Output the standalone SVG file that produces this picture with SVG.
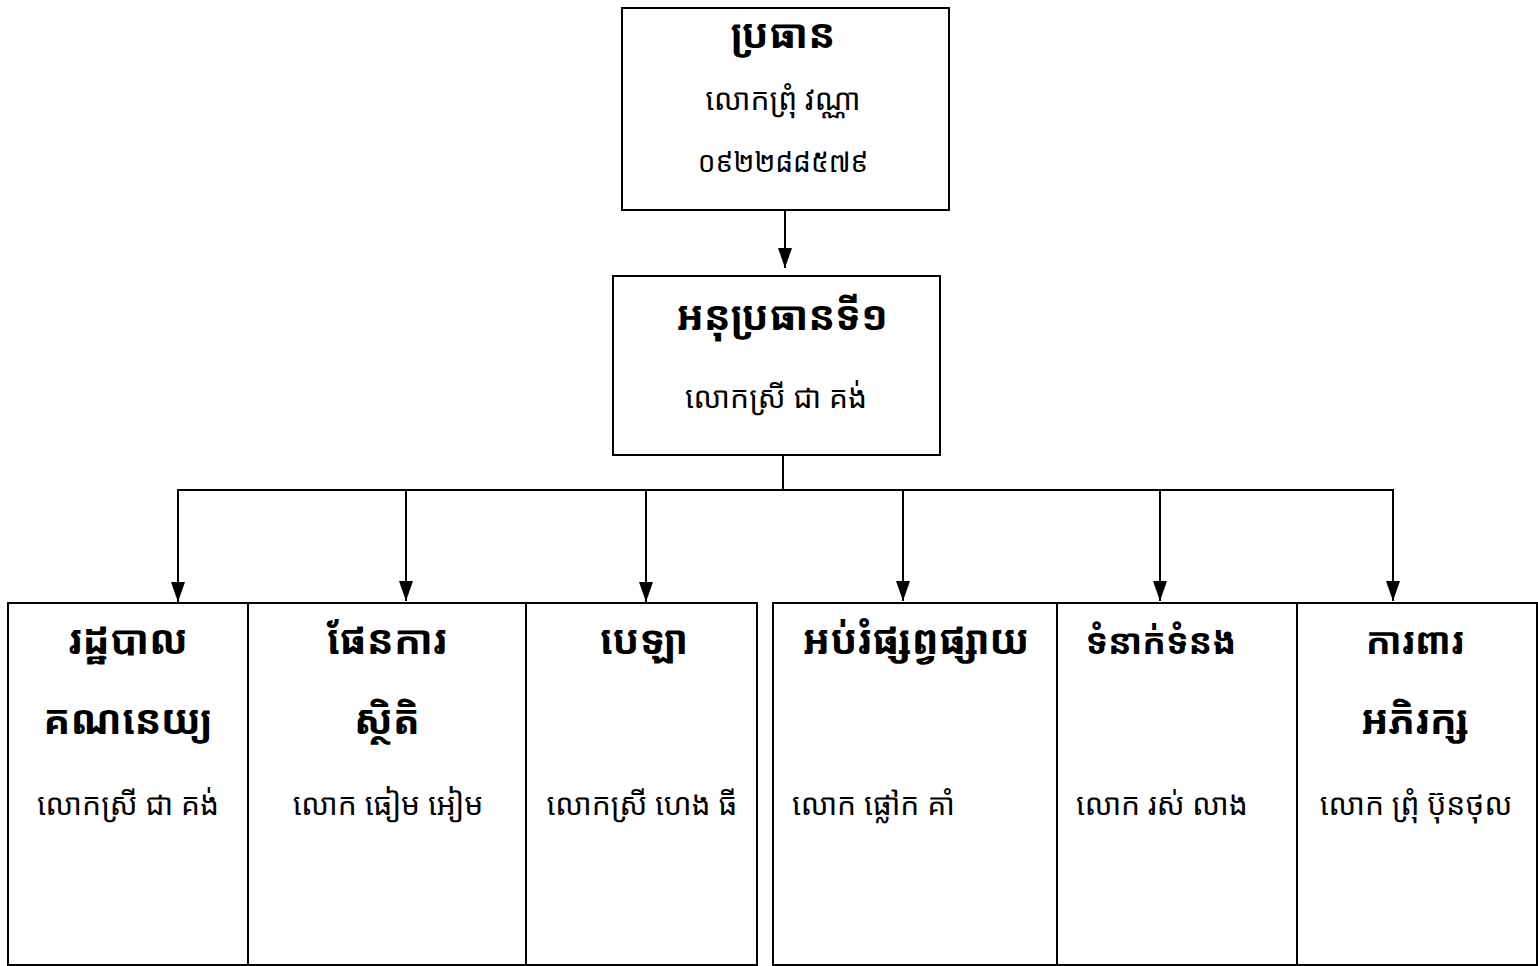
<svg xmlns="http://www.w3.org/2000/svg" width="1538" height="966" viewBox="0 0 1538 966">
<style>
.box{fill:#fff;stroke:#000;stroke-width:2}
.ln{fill:none;stroke:#000;stroke-width:2}
text{font-family:"Noto Sans Khmer","Khmer OS","Noto Sans",sans-serif;fill:#000;font-size:30px;text-anchor:middle}
.b{font-weight:bold;font-size:40px}
.l{text-anchor:start}
.ph{font-size:28px}
</style>
<defs>
<marker id="ad" markerWidth="14" markerHeight="20" refX="7" refY="20" orient="0" markerUnits="userSpaceOnUse" viewBox="0 0 14 20">
<path d="M0,0 L14,0 L7,20 Z" fill="#000"/>
</marker>
</defs>
<g id="connectors">
<line class="ln" x1="785" y1="210" x2="785" y2="268" marker-end="url(#ad)"/>
<line class="ln" x1="783" y1="455" x2="783" y2="490"/>
<line class="ln" x1="177" y1="490" x2="1394" y2="490"/>
<line class="ln" x1="178" y1="490" x2="178" y2="602" marker-end="url(#ad)"/>
<line class="ln" x1="406" y1="490" x2="406" y2="601" marker-end="url(#ad)"/>
<line class="ln" x1="646" y1="490" x2="646" y2="602" marker-end="url(#ad)"/>
<line class="ln" x1="903" y1="490" x2="903" y2="601" marker-end="url(#ad)"/>
<line class="ln" x1="1160" y1="490" x2="1160" y2="601" marker-end="url(#ad)"/>
<line class="ln" x1="1393" y1="490" x2="1393" y2="601" marker-end="url(#ad)"/>
</g>
<g id="n-president">
<rect class="box" x="622" y="8" width="327" height="202"/>
<text class="b" x="783" y="48">ប្រធាន</text>
<text x="783" y="110">លោកព្រុំ វណ្ណា</text>
<text class="ph" x="783" y="172">០៩២២៨៨៥៧៩</text>
</g>
<g id="n-vice">
<rect class="box" x="613" y="276" width="327" height="179"/>
<text class="b" x="782" y="330">អនុប្រធានទី១</text>
<text x="776" y="408">លោកស្រី ជា គង់</text>
</g>
<g id="n-admin">
<rect class="box" x="8" y="603" width="240" height="362"/>
<text class="b" x="128" y="654">រដ្ឋបាល</text>
<text class="b" x="128" y="734">គណនេយ្យ</text>
<text x="128" y="815">លោកស្រី ជា គង់</text>
</g>
<g id="n-plan">
<rect class="box" x="248" y="603" width="278" height="362"/>
<text class="b" x="387" y="654">ផែនការ</text>
<text class="b" x="387" y="734">ស្ថិតិ</text>
<text x="388" y="815">លោក ធៀម អៀម</text>
</g>
<g id="n-cash">
<rect class="box" x="526" y="603" width="231" height="362"/>
<text class="b" x="644" y="654">បេឡា</text>
<text x="642" y="815">លោកស្រី ហេង ធី</text>
</g>
<g id="n-edu">
<rect class="box" x="773" y="603" width="284" height="362"/>
<text class="b" x="916" y="654">អប់រំផ្សព្វផ្សាយ</text>
<text class="l" x="792" y="815">លោក ផ្លៅក គាំ</text>
</g>
<g id="n-relation">
<rect class="box" x="1057" y="603" width="240" height="362"/>
<text class="b" x="1161" y="654" style="font-size:35px">ទំនាក់ទំនង</text>
<text class="l" x="1076" y="815">លោក រស់ លាង</text>
</g>
<g id="n-protect">
<rect class="box" x="1297" y="603" width="240" height="362"/>
<text class="b" x="1415" y="654" style="font-size:37px">ការពារ</text>
<text class="b" x="1415" y="734">អភិរក្ស</text>
<text x="1416" y="815">លោក ព្រុំ ប៊ុនថុល</text>
</g>
</svg>
